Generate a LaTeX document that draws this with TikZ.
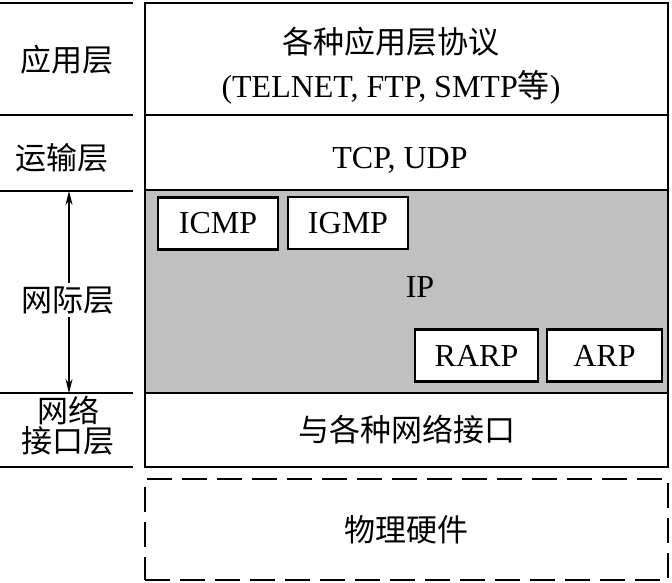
\documentclass[tikz,border=0pt]{standalone}
\usepackage{fontspec}
\setmainfont{Liberation Serif}
\newfontfamily\cjk{Noto Sans CJK SC}
\usetikzlibrary{arrows.meta}
\definecolor{ipgray}{RGB}{192,192,192}

\begin{document}
\begin{tikzpicture}[x=1pt,y=-1pt,
	big/.style={font=\fontsize{32}{36}\selectfont},
	zh/.style={font=\fontsize{31}{36}\selectfont\cjk},
	layerbox/.style={draw,line width=2.6pt,minimum width=523pt,inner sep=0pt},
	protobox/.style={draw,fill=white,line width=2.4pt,minimum height=52pt,inner sep=0pt,big},
	rule/.style={line width=1.3pt}]
	\useasboundingbox (0,0) rectangle (672,582);
	% layers, top to bottom
	\node[layerbox,minimum height=112pt] (app) at (406.5,59) {};
	\node[layerbox,minimum height=75pt] (trans) at (406.5,152.5) {};
	\node[layerbox,minimum height=203pt,fill=ipgray] (ip) at (406.5,291.5) {};
	\node[layerbox,minimum height=74pt,zh] (link) at (406.5,430) {与各种网络接口};
	\node[layerbox,dash pattern=on 25pt off 10pt,minimum height=101pt,zh] (hw) at (406.5,529.5) {物理硬件};
	\node[big,align=center] (apptext) at (391,66) {{\cjk\fontsize{31}{36}\selectfont 各种应用层协议}\\[8pt](TELNET, FTP, SMTP{\cjk 等})};
	\node[big] (transtext) at (400,160) {TCP, UDP};
	% protocols inside the IP layer
	\node[big] (iptext) at (420,287) {IP};
	\node[protobox,minimum width=120pt] (icmp) at (218,223.5) {ICMP};
	\node[protobox,minimum width=120pt] (igmp) at (348,223) {IGMP};
	\node[protobox,minimum width=123pt] (rarp) at (476.5,355.5) {RARP};
	\node[protobox,minimum width=115pt] (arp) at (604.5,355.5) {ARP};
	% left column
	\foreach \y in {3,115,191,393,467}
		\draw[rule] (0,\y) -- (133,\y);
	\node[zh] (appl) at (67,60) {应用层};
	\node[zh] (transl) at (62,158) {运输层};
	\node[zh] (ipl) at (68,300) {网际层};
	\node[zh,align=center] (linkl) at (68,426) {网络\\[-6pt]接口层};
	\coordinate (iptop) at (69,191);
	\coordinate (ipbot) at (69,393);
	\draw[rule,-{Stealth[length=14pt,width=7pt]}] (ipl.north -| iptop) -- (iptop);
	\draw[rule,-{Stealth[length=14pt,width=7pt]}] (ipl.south -| ipbot) -- (ipbot);
\end{tikzpicture}
\end{document}
